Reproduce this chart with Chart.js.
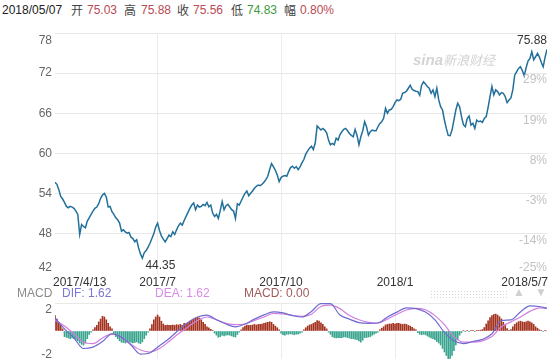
<!DOCTYPE html>
<html><head><meta charset="utf-8">
<script src="https://cdn.jsdelivr.net/npm/chart.js@4.4.1/dist/chart.umd.min.js"></script>
<style>
html,body{margin:0;padding:0;background:#fff;width:553px;height:360px;overflow:hidden;position:relative;font-family:"Liberation Sans",Arial,sans-serif;}
.h{position:absolute;top:3px;font-size:12px;line-height:14px;white-space:nowrap;}
.c{font-family:"Noto Sans CJK SC",sans-serif;color:#444;font-size:12px;}
.r{color:#b94a55;}
.g{color:#3e9a3e;}
.m{position:absolute;top:286px;font-size:12px;line-height:14px;white-space:nowrap;z-index:2;}
#c1{position:absolute;left:0;top:0;}
#c2{position:absolute;left:0;top:296px;}
#dots{position:absolute;left:430px;top:290px;width:77px;height:8px;background-image:radial-gradient(#d4d4d4 0.9px,transparent 1px);background-size:3px 3px;}
.tri{position:absolute;top:285px;font-size:12px;color:#d0d0d0;line-height:14px;}
</style></head>
<body>
<div class="h" style="left:2px;color:#222">2018/05/07</div>
<div class="h c" style="left:71px">开</div>
<div class="h r" style="left:87px">75.03</div>
<div class="h c" style="left:124px">高</div>
<div class="h r" style="left:141px">75.88</div>
<div class="h c" style="left:177px">收</div>
<div class="h r" style="left:193px">75.56</div>
<div class="h c" style="left:231px">低</div>
<div class="h g" style="left:247px">74.83</div>
<div class="h c" style="left:284px">幅</div>
<div class="h r" style="left:300px">0.80%</div>

<canvas id="c1" width="553" height="290"></canvas>
<canvas id="c2" width="553" height="64"></canvas>

<div class="m" style="left:17px;color:#8a8a8a">MACD</div>
<div class="m" style="left:62px;color:#7a76d6">DIF: 1.62</div>
<div class="m" style="left:155px;color:#d88ce6">DEA: 1.62</div>
<div class="m" style="left:244px;color:#a05a5a">MACD: 0.00</div>
<div id="dots"></div>
<div class="tri" style="left:513px">▲</div>
<div class="tri" style="left:535px">▼</div>

<script>
// ---- data ----
const prices = [
55.7,55.4,54.6,53.6,53.2,52.7,52.1,51.9,52.1,52.0,
51.8,51.4,50.9,47.9,49.4,49.1,48.9,49.9,50.4,50.9,
51.4,51.8,52.0,52.5,53.3,53.8,54.05,53.5,52.0,52.1,
51.3,50.9,50.4,50.1,49.6,48.4,48.6,48.3,48.1,48.2,
47.5,47.3,46.8,47.1,45.9,45.0,44.35,45.2,45.5,46.0,
46.6,47.3,48.0,49.0,49.6,48.5,47.7,47.2,46.8,47.3,
47.8,47.6,48.3,47.9,48.6,49.2,49.6,49.3,50.0,50.6,
51.2,51.8,52.3,52.6,51.6,52.3,52.0,52.1,52.4,52.2,
52.7,52.05,52.3,51.1,50.6,50.9,50.3,51.5,52.8,51.6,
52.2,52.4,52.0,51.6,51.4,50.3,52.5,52.3,52.9,53.5,
54.05,54.4,53.7,54.05,54.4,54.8,55.1,55.3,55.2,55.4,
55.7,56.1,56.6,57.6,58.5,58.0,57.5,56.8,55.8,56.4,
56.6,56.7,56.6,57.3,57.9,58.1,57.8,58.05,57.6,58.0,
58.6,59.1,59.9,60.4,60.8,61.1,60.6,61.6,64.1,63.8,
63.5,63.75,63.5,63.1,62.0,61.3,61.5,61.3,62.3,62.0,
62.8,63.25,63.6,63.75,63.4,63.0,62.7,62.5,63.6,62.7,
61.3,62.5,63.4,64.75,64.0,62.75,63.25,63.5,63.4,63.4,
64.0,64.5,64.75,65.25,66.75,66.0,66.5,66.6,67.0,67.6,
68.0,67.9,68.1,69.0,69.1,69.3,69.75,70.2,69.6,69.4,
69.3,69.25,68.7,70.2,70.7,70.4,70.0,69.75,69.0,69.5,
68.5,69.75,68.0,67.0,66.5,65.0,63.75,62.7,62.65,63.5,
65.0,66.5,67.5,67.0,65.5,64.3,64.0,65.2,65.6,64.25,
64.5,63.75,65.0,64.75,64.85,64.65,65.25,65.5,66.9,68.5,
70.0,68.75,69.5,69.25,68.75,69.1,69.0,68.5,67.6,68.0,
68.3,69.5,71.7,72.2,72.7,72.95,72.4,71.6,72.8,73.8,
74.2,75.2,74.0,74.45,74.95,74.4,73.6,72.95,74.4,75.56
];
const macdHist = [
1.1,0.85,0.6,0.4,0.15,
-0.4,-0.45,-0.5,-0.55,-0.5,-0.55,-0.6,-0.7,-0.85,-0.95,-1.0,-0.85,-0.55,-0.25,-0.08,
0.08,0.25,0.4,0.65,0.85,1.05,1.0,0.8,0.55,0.3,0.15,
-0.15,-0.4,-0.55,-0.7,-0.8,-0.82,-0.86,-0.8,-0.78,-0.82,-0.86,-0.82,-0.78,-0.86,-0.9,-0.78,-0.55,-0.3,-0.08,
0.15,0.45,0.8,1.0,1.14,1.0,0.7,0.5,0.4,0.43,0.4,0.4,0.43,0.4,0.45,0.43,0.47,0.4,0.55,
0.5,0.6,0.7,0.78,0.85,0.93,0.97,0.93,0.8,0.62,0.47,0.3,0.22,0.12,0.04,
-0.15,-0.3,-0.45,-0.4,-0.3,-0.35,-0.3,-0.28,-0.3,-0.35,-0.4,-0.43,-0.25,-0.08,
0.08,0.25,0.35,0.43,0.4,0.4,0.43,0.47,0.43,0.47,0.47,0.5,0.55,0.58,0.62,0.66,0.62,0.47,0.35,0.23,0.08,
-0.15,-0.27,-0.3,-0.23,-0.23,-0.2,-0.23,-0.27,-0.23,-0.2,-0.15,-0.08,
0.08,0.23,0.35,0.43,0.47,0.55,0.62,0.74,0.7,0.58,0.47,0.3,0.15,
-0.08,-0.23,-0.4,-0.47,-0.5,-0.47,-0.47,-0.47,-0.43,-0.43,-0.47,-0.5,-0.55,-0.55,-0.58,-0.62,-0.7,-0.79,-0.66,-0.47,-0.47,-0.43,-0.4,-0.3,-0.23,-0.15,-0.08,
0.08,0.2,0.3,0.43,0.47,0.5,0.5,0.55,0.5,0.55,0.55,0.5,0.47,0.5,0.47,0.4,0.35,0.27,0.15,0.08,
-0.12,-0.23,-0.27,-0.23,-0.27,-0.35,-0.43,-0.5,-0.55,-0.62,-0.75,-0.86,-1.0,-1.25,-1.5,-1.75,-2.05,-1.95,-1.75,-1.4,-1.0,-0.62,-0.3,-0.12,
0.04,-0.04,0.03,-0.05,0.04,0.03,-0.04,0.05,0.04,0.06,
0.1,0.25,0.5,0.72,0.95,1.1,1.18,1.21,1.14,1.02,0.86,0.62,0.4,0.17,
0.04,0.1,0.3,0.47,0.58,0.66,0.7,0.66,0.62,0.66,0.7,0.66,0.58,0.47,0.3,0.2,0.08,
0.04,-0.04,0.03,0.0
];
const macdLineIdx = [0,5,10,15,20,25,30,35,40,45,50,55,60,65,70,75,80,85,90,95,100,105,110,115,120,125,130,135,140,145,150,155,160,165,170,175,180,185,190,195,200,205,210,215,220,225,230,235,240,245,250,255,259];
const difVals = [0.93,0.15,-0.5,-1.25,-1.15,-0.75,-0.2,-0.45,-1.0,-1.65,-1.55,-1.05,-0.55,0.05,0.6,1.0,1.14,0.8,0.5,0.3,0.5,0.85,1.15,1.36,1.29,1.1,1.0,1.4,1.95,1.95,1.14,0.85,0.6,0.55,0.57,1.0,1.35,1.65,1.6,1.35,0.8,-0.1,-0.7,-0.9,-0.75,-0.6,-0.2,0.75,0.79,1.36,1.8,1.75,1.62];
const deaVals = [0.79,0.35,-0.2,-0.8,-0.9,-0.5,-0.2,-0.45,-0.95,-1.36,-1.5,-1.25,-0.75,-0.2,0.29,0.75,1.0,0.8,0.55,0.45,0.5,0.75,1.0,1.25,1.22,1.12,1.05,1.2,1.75,1.85,1.6,1.1,0.8,0.62,0.57,0.85,1.2,1.5,1.62,1.52,1.1,0.45,-0.4,-0.8,-0.8,-0.7,-0.4,0.3,0.65,1.0,1.4,1.65,1.62];
const xLabelIdx = [0,54,119,179,259];
const xLabelText = ['2017/4/13','2017/7','2017/10','2018/1','2018/5/7'];
const gridIdx = [54,119,179];
const leftTicks = [78,72,66,60,54,48,42];
const rightTickVals = [72,66,60,54,48,42];
const rightTickText = ['29%','19%','8%','-3%','-14%','-25%'];
const minLabel = '44.35';
const highLabel = '75.88';
const macdTicks = [2,-2];

const yMin = 42, yMax = 78;
const FONT = '12px "Liberation Sans", Arial, sans-serif';

const priceLabels = {
  id:'priceLabels',
  afterDraw(chart){
    const {ctx, scales:{x,y}} = chart;
    ctx.save();
    ctx.font = FONT;
    ctx.textBaseline = 'middle';
    ctx.textAlign = 'right';
    ctx.fillStyle = '#666';
    leftTicks.forEach(v=>{
      let py = y.getPixelForValue(v);
      if (v===yMax) py += 8; else if (v===yMin) py -= 6;
      ctx.fillText(String(v), 52, py);
    });
    ctx.fillStyle = '#c2c2c2';
    rightTickVals.forEach((v,k)=>{
      let py = y.getPixelForValue(v);
      py += (v===yMin) ? -6 : 7;
      ctx.fillText(rightTickText[k], 547, py);
    });
    ctx.fillStyle = '#333';
    xLabelIdx.forEach((idx,k)=>{
      const px = x.getPixelForValue(idx);
      let tx = px;
      if (k===0){ctx.textAlign='left'; tx = px-2;}
      else if (k===xLabelIdx.length-1){ctx.textAlign='right'; tx = px+1;}
      else ctx.textAlign='center';
      ctx.fillText(xLabelText[k], tx, 283);
    });
    // min label
    let mi = 0; prices.forEach((v,i)=>{ if (v<prices[mi]) mi=i; });
    ctx.textAlign='left';
    ctx.fillText(minLabel, x.getPixelForValue(mi)+3, 266);
    // high label
    ctx.textAlign='right';
    ctx.fillText(highLabel, 547, 41);
    // watermark
    ctx.fillStyle = '#d4d4d4';
    ctx.textAlign='left';
    ctx.font = 'italic bold 15px "Liberation Sans", Arial, sans-serif';
    ctx.fillText('sina', 413, 61);
    ctx.font = 'italic 13px "Noto Sans CJK SC", sans-serif';
    ctx.fillText('新浪财经', 443, 60);
    ctx.restore();
  }
};

new Chart(document.getElementById('c1'), {
  type:'line',
  data:{datasets:[{
    data: prices.map((v,i)=>({x:i,y:v})),
    borderColor:'#22709a', borderWidth:1.5, pointRadius:0, tension:0, fill:false
  }]},
  options:{
    responsive:false, animation:false, devicePixelRatio:1,
    layout:{padding:{left:55,right:6,top:33,bottom:16}},
    plugins:{legend:{display:false},tooltip:{enabled:false}},
    scales:{
      x:{type:'linear',min:0,max:259,ticks:{display:false},
         grid:{color:'#ececec',drawTicks:false},border:{display:false},
         afterBuildTicks:s=>{s.ticks = gridIdx.map(v=>({value:v}));},
         afterFit:s=>{s.height=0;}},
      y:{min:yMin,max:yMax,ticks:{display:false,stepSize:6},
         grid:{drawTicks:false,color:c=> c.tick && c.tick.value===yMin ? 'rgba(0,0,0,0)' : '#e8e8e8'},
         border:{display:false},
         afterFit:s=>{s.width=0;}}
    }
  },
  plugins:[priceLabels]
});

const macdLabels = {
  id:'macdLabels',
  afterDraw(chart){
    const {ctx, scales:{y}} = chart;
    ctx.save();
    ctx.font = FONT; ctx.textBaseline='middle'; ctx.textAlign='right'; ctx.fillStyle='#666';
    macdTicks.forEach(v=>{
      let py = y.getPixelForValue(v);
      py += v>0 ? 7 : -4;
      ctx.fillText(String(v), 52, py);
    });
    ctx.restore();
  }
};

new Chart(document.getElementById('c2'), {
  type:'bar',
  data:{datasets:[
    {type:'line', order:1, data: macdLineIdx.map((x,k)=>({x,y:difVals[k]})),
     borderColor:'#6f6bd0', borderWidth:1.2, pointRadius:0, cubicInterpolationMode:'monotone', fill:false},
    {type:'line', order:1, data: macdLineIdx.map((x,k)=>({x,y:deaVals[k]})),
     borderColor:'#d27ee0', borderWidth:1.2, pointRadius:0, cubicInterpolationMode:'monotone', fill:false},
    {type:'bar', order:2, data: macdHist.map((v,i)=>({x:i,y:v})),
     backgroundColor: macdHist.map(v=> v>=0 ? '#a3321f' : '#3aa58f'),
     barThickness:1, borderWidth:0}
  ]},
  options:{
    responsive:false, animation:false, devicePixelRatio:1,
    layout:{padding:{left:55,right:6,top:7,bottom:1}},
    plugins:{legend:{display:false},tooltip:{enabled:false}},
    scales:{
      x:{type:'linear',min:0,max:259,offset:false,ticks:{display:false},
         grid:{color:'#ececec',drawTicks:false,offset:false},border:{display:false},
         afterBuildTicks:s=>{s.ticks = gridIdx.map(v=>({value:v}));},
         afterFit:s=>{s.height=0;}},
      y:{min:-2,max:2,ticks:{display:false,stepSize:2},
         grid:{drawTicks:false,color:c=> c.tick && c.tick.value===2 ? '#e8e8e8' : 'rgba(0,0,0,0)'},
         border:{display:false},
         afterFit:s=>{s.width=0;}}
    }
  },
  plugins:[macdLabels]
});
</script>
</body></html>
